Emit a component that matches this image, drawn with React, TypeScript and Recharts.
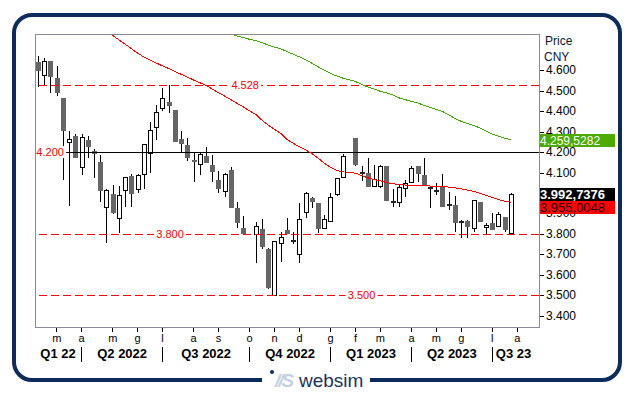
import { ComposedChart, Bar, Line, XAxis, YAxis, ReferenceLine } from 'recharts';

// Weekly CNY candles, one slot per Friday from 11 Feb 2022 to 28 Jul 2023.
// Slots 34 and 50 are the Golden Week / Spring Festival weeks with no trading.
const OPEN = [
  4.640, 4.575, 4.645, 4.561, 4.464, 4.248, 4.279, 4.126, 4.259, 4.204,
  4.152, 3.930, 3.995, 3.880, 4.013, 4.083, 4.020, 4.091, 4.194, 4.321,
  4.414, 4.445, 4.406, 4.264, 4.235, 4.161, 4.140, 4.181, 4.137, 4.064,
  4.008, 4.113, 3.925, 3.827, null, 3.801, 3.823, 3.726, 3.502, 3.754,
  3.819, 3.772, 3.702, 3.906, 3.974, 3.951, 3.827, 3.862, 3.997, 4.077,
  null, 4.269, 4.104, 4.100, 4.034, 4.036, 4.132, 3.961, 3.958, 4.023,
  4.056, 4.132, 4.088, 4.031, 4.015, 4.031, 3.946, 3.942, 3.863, 3.863,
  3.827, 3.955, 3.832, 3.852, 3.841, 3.881, 3.803,
];
const HIGH = [
  4.670, 4.660, 4.645, 4.621, 4.464, 4.303, 4.287, 4.287, 4.279, 4.217,
  4.186, 4.020, 4.039, 4.034, 4.078, 4.095, 4.093, 4.238, 4.346, 4.432,
  4.512, 4.528, 4.406, 4.303, 4.269, 4.197, 4.197, 4.223, 4.186, 4.109,
  4.100, 4.129, 3.955, 3.889, null, 3.860, 3.871, 3.730, 3.764, 3.811,
  3.876, 3.811, 3.950, 4.007, 3.982, 3.951, 3.893, 3.999, 4.072, 4.191,
  null, 4.269, 4.132, 4.170, 4.137, 4.137, 4.132, 4.020, 4.039, 4.064,
  4.132, 4.132, 4.170, 4.034, 4.047, 4.093, 4.007, 3.986, 3.868, 3.868,
  3.964, 3.955, 3.855, 3.901, 3.906, 3.881, 3.999,
];
const LOW = [
  4.520, 4.528, 4.487, 4.476, 4.064, 3.938, 4.173, 4.088, 4.173, 4.075,
  3.955, 3.754, 3.898, 3.806, 3.930, 3.933, 4.002, 4.018, 4.100, 4.259,
  4.403, 4.390, 4.248, 4.199, 4.158, 4.056, 4.090, 4.148, 4.056, 3.999,
  3.979, 3.928, 3.827, 3.800, null, 3.660, 3.725, 3.531, 3.500, 3.665,
  3.798, 3.751, 3.656, 3.876, 3.925, 3.803, 3.827, 3.862, 3.987, 4.077,
  null, 4.130, 4.060, 4.031, 4.034, 4.023, 3.963, 3.933, 3.933, 3.982,
  4.056, 4.056, 4.036, 3.925, 3.990, 3.933, 3.917, 3.811, 3.779, 3.779,
  3.811, 3.860, 3.800, 3.819, 3.832, 3.808, 3.800,
];
const CLOSE = [
  4.598, 4.647, 4.569, 4.491, 4.305, 4.264, 4.173, 4.272, 4.227, 4.189,
  4.012, 4.013, 3.904, 3.990, 4.078, 3.997, 4.087, 4.238, 4.308, 4.396,
  4.463, 4.427, 4.248, 4.238, 4.170, 4.153, 4.189, 4.148, 4.104, 4.021,
  4.093, 3.928, 3.855, 3.800, null, 3.840, 3.738, 3.534, 3.764, 3.787,
  3.798, 3.771, 3.871, 4.000, 3.955, 3.826, 3.871, 3.979, 4.072, 4.181,
  null, 4.139, 4.100, 4.031, 4.069, 4.132, 3.963, 3.958, 4.031, 4.047,
  4.121, 4.091, 4.036, 4.028, 4.012, 3.933, 3.942, 3.852, 3.860, 3.836,
  3.964, 3.860, 3.844, 3.819, 3.896, 3.819, 3.993,
];

// moving averages (start above the top edge)
const MA_RED = [
  null, null, null, null, null, null, null, null, null, null, null,
  4.792, 4.770, 4.748, 4.727, 4.705, 4.683, 4.665, 4.650, 4.635, 4.621,
  4.608, 4.594, 4.580, 4.566, 4.552, 4.539, 4.525, 4.508, 4.490, 4.473,
  4.456, 4.438, 4.420, 4.401, 4.384, 4.355, 4.331, 4.311, 4.291, 4.262,
  4.243, 4.226, 4.210, 4.193, 4.170, 4.146, 4.125, 4.110, 4.103, 4.101,
  4.097, 4.085, 4.074, 4.066, 4.059, 4.051, 4.045, 4.042, 4.039, 4.037,
  4.036, 4.035, 4.034, 4.033, 4.032, 4.029, 4.025, 4.020, 4.014, 4.008,
  3.999, 3.988, 3.978, 3.968, 3.960, 3.955,
];
const MA_GREEN = [
  null, null, null, null, null, null, null, null, null, null,
  null, null, null, null, null, null, null, null, null, null,
  null, null, null, null, null, null, null, null, null, null,
  4.790, 4.776, 4.767, 4.759, 4.751, 4.745, 4.735, 4.722, 4.713, 4.705,
  4.691, 4.678, 4.665, 4.651, 4.634, 4.617, 4.600, 4.584, 4.572, 4.561,
  4.553, 4.545, 4.531, 4.518, 4.508, 4.497, 4.489, 4.479, 4.465, 4.456,
  4.448, 4.440, 4.429, 4.418, 4.408, 4.398, 4.382, 4.364, 4.350, 4.340,
  4.330, 4.318, 4.303, 4.288, 4.278, 4.268, 4.259,
];

const MONTHS = ['m', 'a', 'm', 'g', 'l', 'a', 's', 'o', 'n', 'd', 'g', 'f', 'm', 'a', 'm', 'g', 'l', 'a'];
const MONTH_START = [3, 7, 12, 16, 20, 25, 29, 34, 38, 42, 47, 51, 55, 60, 64, 68, 73, 77];
const QUARTERS = ['Q1 22', 'Q2 2022', 'Q3 2022', 'Q4 2022', 'Q1 2023', 'Q2 2023', 'Q3 23'];
const QUARTER_MID = [3.2, 13.5, 27, 40.5, 53.5, 66.5, 76.4];
const QUARTER_START = [7, 20, 34, 47, 60, 73];

const PRICE_TICKS = [3.4, 3.5, 3.6, 3.7, 3.8, 3.9, 4.0, 4.1, 4.2, 4.3, 4.4, 4.5, 4.6];
const LEVELS = [4.528, 4.2, 3.8, 3.5];
const LAST_VALUES = [4.2595282, 3.9927376, 3.9550048]; // green MA, close, red MA

const LEVEL_LOOK = [
  { stroke: '#ff0000', dash: '8 4', at: 0.417 },
  { stroke: '#000000', dash: undefined, at: 0.03 },
  { stroke: '#ff0000', dash: '8 4', at: 0.268 },
  { stroke: '#ff0000', dash: '8 4', at: 0.648 },
];
const TAG_LOOK = [
  { bg: '#4caa00', fg: '#ffffff', bold: false, size: 12, nudge: 0 },
  { bg: '#000000', fg: '#ffffff', bold: true, size: 13, nudge: 0 },
  { bg: '#ff0000', fg: '#220000', bold: false, size: 13, nudge: 5 },
];

const FONT = '"Liberation Sans", Arial, sans-serif';

const rows = OPEN.map((o, i) => ({
  i,
  o,
  h: HIGH[i],
  l: LOW[i],
  c: CLOSE[i],
  maRed: MA_RED[i],
  maGreen: MA_GREEN[i],
}));

const X_TICKS = Array.from(new Set([...MONTH_START, ...QUARTER_MID])).sort((a, b) => a - b);
// price ticks first, last-value tags after so they paint on top
const Y_TICKS = [...PRICE_TICKS, ...LAST_VALUES];

function Candle(props: any) {
  const { x, y, width, height, payload } = props;
  if (!payload || payload.o == null) return null;
  const { o, h, l, c } = payload;
  const top = Math.min(y, y + height);
  const bot = Math.max(y, y + height);
  const py = (v: number) => bot - ((v - l) / (h - l || 1)) * (bot - top);
  const cx = Math.floor(x + width / 2) + 0.5;
  const up = c >= o;
  const bTop = Math.round(py(Math.max(o, c)));
  const bBot = Math.round(py(Math.min(o, c)));
  const bh = bBot - bTop;
  return (
    <g shapeRendering="crispEdges">
      <line x1={cx} x2={cx} y1={Math.round(top)} y2={Math.round(bot)} stroke="#000" strokeWidth={1} />
      {bh < 2 ? (
        <rect x={cx - 2.5} y={bTop} width={5} height={Math.max(bh, 1) + 1} fill={up ? '#000' : '#222'} />
      ) : up ? (
        <rect x={cx - 2} y={bTop + 0.5} width={4} height={bh} fill="#fff" stroke="#000" strokeWidth={1} />
      ) : (
        <rect x={cx - 2.5} y={bTop} width={5} height={bh} fill="#666666" />
      )}
    </g>
  );
}

function WeekTick(props: any) {
  const { x, y, payload } = props;
  const v = payload.value;
  const m = MONTH_START.indexOf(v);
  const q = QUARTER_MID.indexOf(v);
  const sep = QUARTER_START.includes(v);
  const px = Math.floor(x) + 0.5;
  return (
    <g fontFamily={FONT}>
      {m >= 0 && (
        <line x1={px} x2={px} y1={y + 1} y2={y + 5} stroke="#000" shapeRendering="crispEdges" />
      )}
      {m >= 0 && (
        <text x={x} y={y + 15} textAnchor="middle" fontSize={11} fill="#000">
          {MONTHS[m]}
        </text>
      )}
      {sep && (
        <line x1={px} x2={px} y1={y + 20} y2={y + 35} stroke="#000" shapeRendering="crispEdges" />
      )}
      {q >= 0 && (
        <text x={x} y={y + 31} textAnchor="middle" fontSize={13} fontWeight="bold" fill="#000">
          {QUARTERS[q]}
        </text>
      )}
    </g>
  );
}

const formatTag = (v: number) => {
  const s = v.toFixed(7);
  return s.slice(0, 5) + ',' + s.slice(5);
};

// price axis tick: plain label, or a coloured last-value tag
function PriceTick(props: any) {
  const { x, y, payload } = props;
  const v = payload.value;
  const k = LAST_VALUES.indexOf(v);
  const left = x - 7; // plot edge
  if (k < 0) {
    const py = Math.round(y) + 0.5;
    return (
      <g fontFamily={FONT}>
        <line x1={left} x2={left + 5} y1={py} y2={py} stroke="#000" shapeRendering="crispEdges" />
        <text x={x} y={y + 4} fontSize={12} fill="#000">
          {v.toFixed(3)}
        </text>
      </g>
    );
  }
  const look = TAG_LOOK[k];
  const ty = Math.round(y + look.nudge);
  return (
    <g fontFamily={FONT}>
      <rect x={left} y={ty - 6} width={76} height={13} fill={look.bg} shapeRendering="crispEdges" />
      <text
        x={left + 1}
        y={ty + 5}
        fontSize={look.size}
        fontWeight={look.bold ? 'bold' : 'normal'}
        fill={look.fg}
      >
        {formatTag(v)}
      </text>
    </g>
  );
}

// level line drawn from the reference line's own coordinates
const levelShape = (stroke: string, dash?: string) => (props: any) => {
  const y = Math.round(props.y1) + 0.5;
  return (
    <line
      x1={props.x1}
      x2={props.x2}
      y1={y}
      y2={y}
      stroke={stroke}
      strokeWidth={1}
      strokeDasharray={dash}
    />
  );
};

const levelLabel = (value: number, at: number) => (props: any) => {
  const vb = props.viewBox;
  const cx = vb.x + at * vb.width;
  return (
    <g fontFamily={FONT}>
      <rect x={cx - 16} y={vb.y - 6} width={32} height={12} fill="#fff" />
      <text x={cx} y={vb.y + 4} textAnchor="middle" fontSize={11} fill="#ff0000">
        {value.toFixed(3)}
      </text>
    </g>
  );
};

export default function App() {
  return (
    <div
      style={{
        position: 'absolute',
        left: 0,
        top: 0,
        width: 634,
        height: 394,
        background: '#fff',
        fontFamily: FONT,
        overflow: 'hidden',
      }}
    >
      <div
        style={{
          position: 'absolute',
          left: 12,
          top: 13,
          width: 610,
          height: 369,
          border: '4px solid #0d2c5c',
          borderRadius: 20,
          boxSizing: 'border-box',
        }}
      />
      <ComposedChart
        width={634}
        height={394}
        data={rows}
        margin={{ top: 34, left: 35, right: 35, bottom: 27 }}
        style={{ position: 'absolute', left: 0, top: 0, fontFamily: FONT }}
      >
        <XAxis
          dataKey="i"
          type="number"
          domain={[-0.5, 80.5]}
          ticks={X_TICKS}
          interval={0}
          tick={(p: any) => <WeekTick {...p} />}
          tickLine={false}
          axisLine={false}
          tickSize={0}
          tickMargin={0}
          height={40}
        />
        <YAxis
          orientation="right"
          type="number"
          domain={[3.345, 4.777]}
          allowDataOverflow
          ticks={Y_TICKS}
          interval={0}
          tick={(p: any) => <PriceTick {...p} />}
          tickLine={false}
          tickSize={5}
          tickMargin={2}
          axisLine={false}
          width={60}
        />
        {LEVELS.map((v, k) => (
          <ReferenceLine
            key={'lv' + v}
            y={v}
            stroke={LEVEL_LOOK[k].stroke}
            shape={levelShape(LEVEL_LOOK[k].stroke, LEVEL_LOOK[k].dash)}
            label={levelLabel(v, LEVEL_LOOK[k].at)}
          />
        ))}
        <Bar
          dataKey={(d: any) => (d.o == null ? null : [d.l, d.h])}
          barSize={5}
          shape={(p: any) => <Candle {...p} />}
          isAnimationActive={false}
        />
        <Line
          dataKey="maRed"
          stroke="#ff0000"
          strokeWidth={1}
          dot={false}
          connectNulls
          isAnimationActive={false}
          shapeRendering="crispEdges"
        />
        <Line
          dataKey="maGreen"
          stroke="#44a800"
          strokeWidth={1}
          dot={false}
          connectNulls
          isAnimationActive={false}
          shapeRendering="crispEdges"
        />
      </ComposedChart>
      <div
        style={{
          position: 'absolute',
          left: 35,
          top: 34,
          width: 505,
          height: 294,
          border: '1px solid #8b8b9b',
          boxSizing: 'border-box',
          pointerEvents: 'none',
        }}
      />
      <div style={{ position: 'absolute', left: 545, top: 34, fontSize: 12, color: '#0b1838' }}>Price</div>
      <div style={{ position: 'absolute', left: 544, top: 50, fontSize: 12, color: '#0b1838' }}>CNY</div>
      <div
        style={{
          position: 'absolute',
          left: 262,
          top: 370,
          width: 108,
          height: 22,
          background: '#fff',
        }}
      >
        <div
          style={{
            position: 'absolute',
            left: 8,
            top: 0,
            width: 4,
            height: 4,
            borderRadius: 2,
            background: '#0d2c5c',
          }}
        />
        <div
          style={{
            position: 'absolute',
            left: 13,
            top: 1,
            fontSize: 19,
            fontStyle: 'italic',
            fontWeight: 'bold',
            color: '#c6d1e0',
            lineHeight: '20px',
            letterSpacing: -2,
          }}
        >
          //S
        </div>
        <div
          style={{
            position: 'absolute',
            left: 37,
            top: 1,
            fontSize: 19,
            color: '#18345f',
            lineHeight: '20px',
          }}
        >
          websim
        </div>
      </div>
    </div>
  );
}
